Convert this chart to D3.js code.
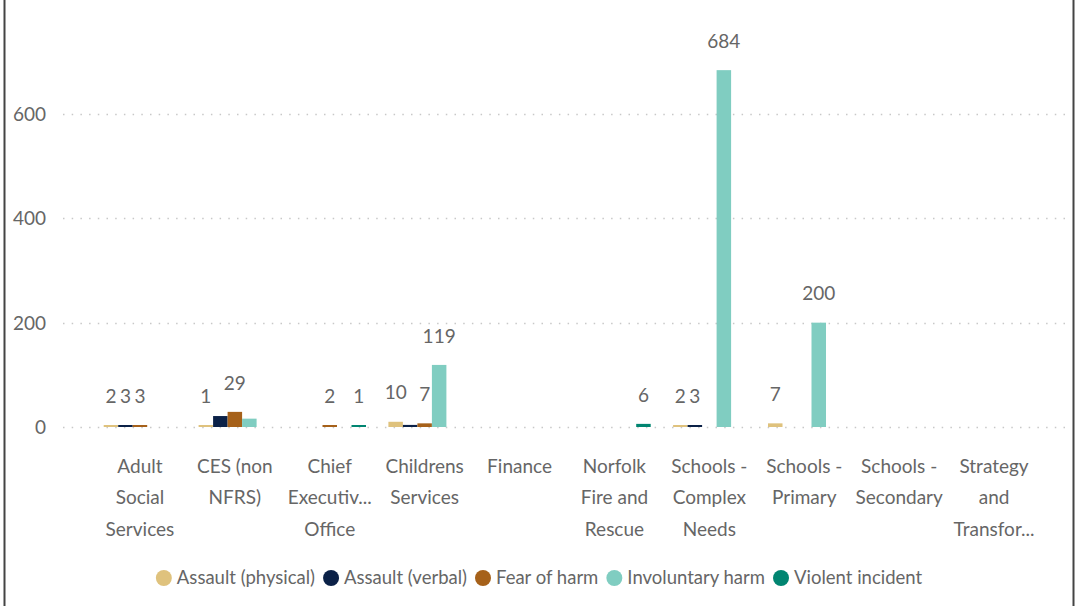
<!DOCTYPE html>
<html>
<head>
<meta charset="utf-8">
<script src="https://cdn.jsdelivr.net/npm/d3@7"></script>
<style>
  html, body { margin: 0; padding: 0; background: #fff; }
  svg { display: block; }
  text { font-family: "Lato", "Open Sans", sans-serif; fill: #666; }
</style>
</head>
<body>
<svg id="chart" width="1076" height="606"></svg>
<script>
// Incident counts by department and incident type
const categories = [
  "Adult Social Services", "CES (non NFRS)", "Chief Executive's Office",
  "Childrens Services", "Finance", "Norfolk Fire and Rescue",
  "Schools - Complex Needs", "Schools - Primary", "Schools - Secondary",
  "Strategy and Transformation"
];
const tickLabels = [
  ["Adult", "Social", "Services"],
  ["CES (non", "NFRS)"],
  ["Chief", "Executiv...", "Office"],
  ["Childrens", "Services"],
  ["Finance"],
  ["Norfolk", "Fire and", "Rescue"],
  ["Schools -", "Complex", "Needs"],
  ["Schools -", "Primary"],
  ["Schools -", "Secondary"],
  ["Strategy", "and", "Transfor..."]
];
const seriesNames = ["Assault (physical)", "Assault (verbal)", "Fear of harm", "Involuntary harm", "Violent incident"];
const assaultPhysical = [2, 1, null, 10, null, null, 2, 7, null, null];
const assaultVerbal   = [3, 21, null, 4, null, null, 3, null, null, null];
const fearOfHarm      = [3, 29, 2, 7, null, null, null, null, null, null];
const involuntaryHarm = [null, 16, null, 119, null, null, 684, 200, null, null];
const violentIncident = [null, null, 1, null, null, 6, null, null, null, null];
const yTicks = [0, 200, 400, 600];
const colors = ["#dfc27d", "#0b2147", "#a6611a", "#80cdc1", "#018571"];

const seriesValues = [assaultPhysical, assaultVerbal, fearOfHarm, involuntaryHarm, violentIncident];

const svg = d3.select("#chart");

// frame edges
svg.append("line").attr("x1", 4.5).attr("x2", 4.5).attr("y1", 0).attr("y2", 606)
  .attr("stroke", "#444").attr("stroke-width", 2);
svg.append("line").attr("x1", 1073.5).attr("x2", 1073.5).attr("y1", 0).attr("y2", 606)
  .attr("stroke", "#444").attr("stroke-width", 2);

const x0 = d3.scaleBand().domain(categories).range([92.5, 1041.5])
  .paddingInner(0.236).paddingOuter(0.118);
const x1 = d3.scaleBand().domain(seriesNames).range([0, x0.bandwidth()]);
const y = d3.scaleLinear().domain([0, 760]).range([427, 30.5]);

// gridlines
svg.append("g").selectAll("line").data(yTicks).join("line")
  .attr("x1", 63).attr("x2", 1067)
  .attr("y1", d => Math.round(y(d)) + 0.5).attr("y2", d => Math.round(y(d)) + 0.5)
  .attr("stroke", "#c8c8c8").attr("stroke-width", 1.5)
  .attr("stroke-dasharray", "1.5,7.2");

// y axis labels
const yAxis = d3.axisLeft(y).tickValues(yTicks).tickSize(0).tickPadding(0);
const yg = svg.append("g").attr("transform", "translate(46,0)").call(yAxis);
yg.select(".domain").remove();
yg.selectAll("text").attr("font-size", 19).attr("fill", "#666")
  .attr("font-family", "Lato, 'Open Sans', sans-serif").attr("dy", "0.35em");

// bars
const bars = [];
categories.forEach((c, ci) => {
  seriesNames.forEach((s, si) => {
    const v = seriesValues[si][ci];
    if (v != null) bars.push({ c, s, si, v });
  });
});

const g = svg.append("g");
g.selectAll("rect").data(bars).join("rect")
  .attr("x", d => x0(d.c) + x1(d.s))
  .attr("width", x1.bandwidth())
  .attr("y", d => Math.min(y(d.v), y(0) - 2))
  .attr("height", d => Math.max(y(0) - y(d.v), 2))
  .attr("fill", d => colors[d.si]);

// data labels, larger values placed first, overlapping ones dropped
const lg = svg.append("g");
const labels = lg.selectAll("text").data(bars).join("text")
  .attr("x", d => x0(d.c) + x1(d.s) + x1.bandwidth() / 2)
  .attr("y", d => Math.min(y(d.v), y(0) - 2) - 29)
  .attr("dy", "0.35em")
  .attr("text-anchor", "middle")
  .attr("font-size", 19)
  .text(d => d.v);
const placed = [];
labels.nodes()
  .map((n, i) => ({ n, d: bars[i] }))
  .sort((a, b) => b.d.v - a.d.v)
  .forEach(({ n }) => {
    const bb = n.getBBox();
    const box = { x0: bb.x - 0.5, x1: bb.x + bb.width + 0.5, y0: bb.y, y1: bb.y + bb.height };
    const hit = placed.some(p => box.x0 < p.x1 && box.x1 > p.x0 && box.y0 < p.y1 && box.y1 > p.y0);
    if (hit) d3.select(n).remove(); else placed.push(box);
  });

// category labels
const xg = svg.append("g");
categories.forEach((c, ci) => {
  const t = xg.append("text")
    .attr("x", x0(c) + x0.bandwidth() / 2)
    .attr("y", 466)
    .attr("text-anchor", "middle")
    .attr("font-size", 19);
  tickLabels[ci].forEach((line, li) => {
    t.append("tspan").attr("x", x0(c) + x0.bandwidth() / 2)
      .attr("y", 466 + li * 31.5).attr("dy", "0.35em").text(line);
  });
});

// legend, centred
const leg = svg.append("g");
const items = seriesNames.map((name, i) => {
  const it = leg.append("g");
  it.append("circle").attr("r", 8).attr("cx", 8).attr("cy", 0).attr("fill", colors[i]);
  const tx = it.append("text").attr("x", 21).attr("y", 0).attr("dy", "0.35em")
    .attr("font-size", 18.5).text(name);
  return { it, w: 21 + tx.node().getComputedTextLength() };
});
const gap = 8;
const total = d3.sum(items, d => d.w) + gap * (items.length - 1);
let cx = 539 - total / 2;
items.forEach(d => {
  d.it.attr("transform", `translate(${cx},578)`);
  cx += d.w + gap;
});
</script>
</body>
</html>
